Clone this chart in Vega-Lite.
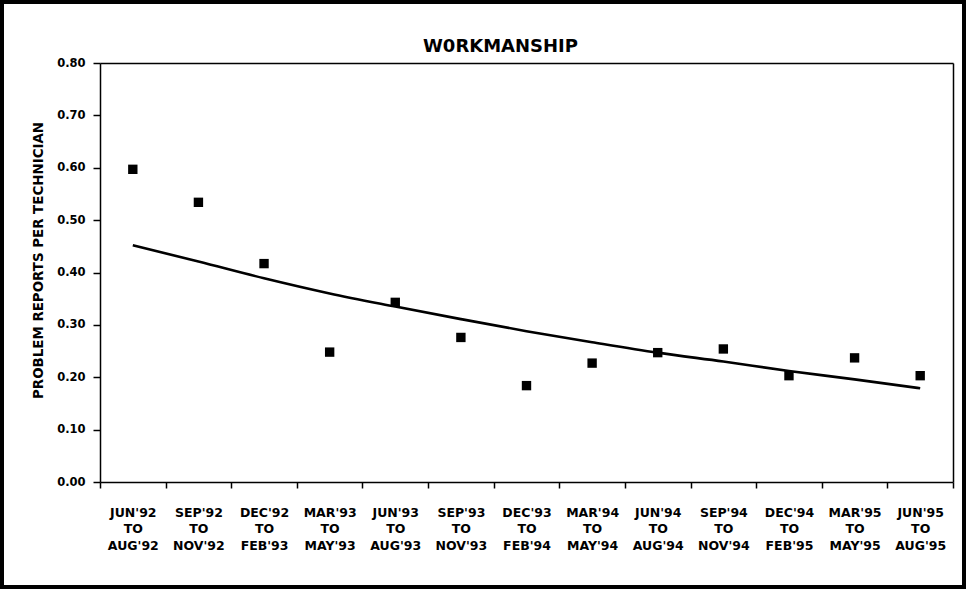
{
  "$schema": "https://vega.github.io/schema/vega-lite/v6.json",
  "autosize": {"type": "none"},
  "padding": 2,
  "width": 962,
  "height": 585,
  "background": "white",
  "config": {
    "view": {"stroke": "black", "strokeWidth": 4, "fill": "white"},
    "font": "DejaVu Sans",
    "axis": {"labelFont": "DejaVu Sans", "titleFont": "DejaVu Sans", "labelColor": "black", "titleColor": "black", "domainColor": "black", "tickColor": "black", "grid": false}
  },
  "data": {
    "values": [
      {"period": "JUN'92 TO AUG'92", "value": 0.597, "trend": 0.452},
      {"period": "SEP'92 TO NOV'92", "value": 0.534, "trend": 0.421},
      {"period": "DEC'92 TO FEB'93", "value": 0.417, "trend": 0.389},
      {"period": "MAR'93 TO MAY'93", "value": 0.248, "trend": 0.360},
      {"period": "JUN'93 TO AUG'93", "value": 0.343, "trend": 0.335},
      {"period": "SEP'93 TO NOV'93", "value": 0.276, "trend": 0.311},
      {"period": "DEC'93 TO FEB'94", "value": 0.184, "trend": 0.288},
      {"period": "MAR'94 TO MAY'94", "value": 0.227, "trend": 0.267},
      {"period": "JUN'94 TO AUG'94", "value": 0.247, "trend": 0.247},
      {"period": "SEP'94 TO NOV'94", "value": 0.254, "trend": 0.230},
      {"period": "DEC'94 TO FEB'95", "value": 0.203, "trend": 0.212},
      {"period": "MAR'95 TO MAY'95", "value": 0.237, "trend": 0.196},
      {"period": "JUN'95 TO AUG'95", "value": 0.203, "trend": 0.179}
    ]
  },
  "layer": [
    {
      "mark": {"type": "point", "shape": "square", "filled": true, "color": "black", "size": 88, "opacity": 1},
      "encoding": {
        "x": {
          "field": "period", "type": "nominal", "sort": null,
          "scale": {"type": "band", "range": [98, 951], "paddingInner": 0, "paddingOuter": 0},
          "axis": {
            "orient": "bottom", "offset": -105, "title": null, "labelAngle": 0,
            "labelExpr": "datum.value ? split(datum.value, ' ') : ''",
            "labelFontSize": 12.5, "labelFontWeight": "bold", "labelLineHeight": 16.5,
            "labelPadding": 18, "tickBand": "extent", "tickSize": 6, "tickWidth": 1.5,
            "domainWidth": 1.5
          }
        },
        "y": {
          "field": "value", "type": "quantitative",
          "scale": {"domain": [0, 0.8], "range": [480, 61], "nice": false, "zero": true},
          "axis": {
            "orient": "left", "offset": -98,
            "title": "PROBLEM REPORTS PER TECHNICIAN",
            "titleFontSize": 13.4, "titleFontWeight": "bold",
            "titleX": -62, "titleY": 258, "titleAngle": 270, "titleAlign": "center", "titleBaseline": "middle",
            "values": [0, 0.1, 0.2, 0.3, 0.4, 0.5, 0.6, 0.7, 0.8],
            "format": ".2f", "labelFontSize": 11.5, "labelFontWeight": "bold",
            "labelPadding": 8, "tickSize": 7, "tickWidth": 1.5, "domainWidth": 1.5
          }
        }
      }
    },
    {
      "mark": {"type": "line", "color": "black", "strokeWidth": 2.6, "interpolate": "monotone"},
      "encoding": {
        "x": {
          "field": "period", "type": "nominal", "sort": null,
          "axis": {
            "orient": "top", "offset": -61, "labels": false, "ticks": false,
            "domainWidth": 1.5,
            "title": "W0RKMANSHIP", "titleFontSize": 18, "titleFontWeight": "bold",
            "titleX": 498, "titleAlign": "center", "titlePadding": 8
          }
        },
        "y": {
          "field": "trend", "type": "quantitative",
          "axis": {"orient": "right", "offset": -11, "labels": false, "ticks": false, "title": null, "domainWidth": 1.5}
        }
      }
    }
  ],
  "resolve": {"axis": {"x": "independent", "y": "independent"}}
}
